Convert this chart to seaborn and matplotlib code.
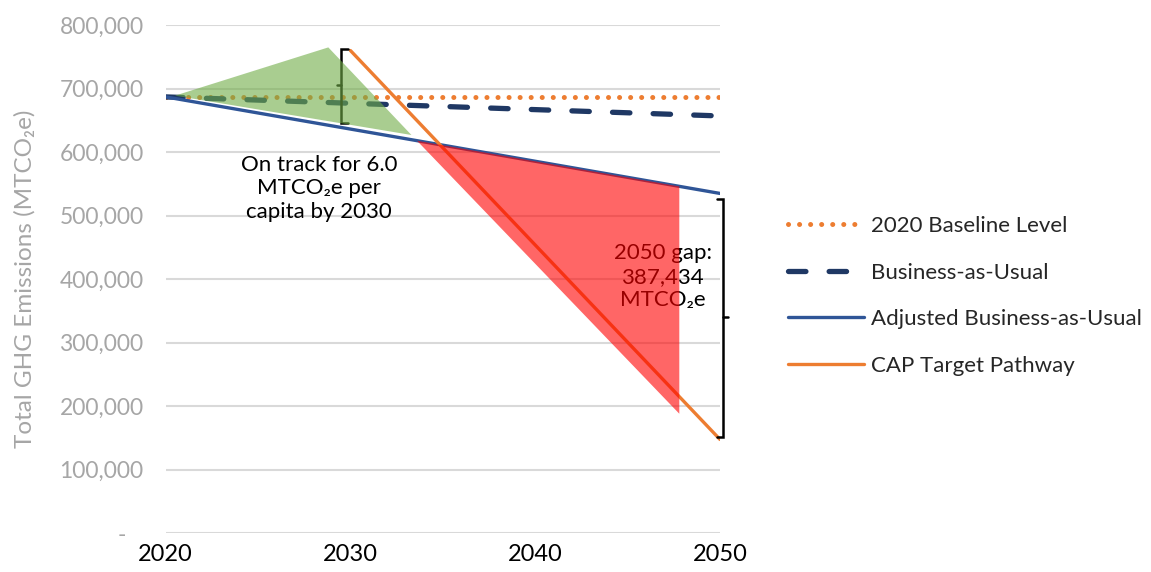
import numpy as np
import pandas as pd
import matplotlib
matplotlib.use("Agg")
import matplotlib.pyplot as plt
import seaborn as sns

# Emission pathways (MTCO2e)
baseline_years = [2020, 2050]
baseline_vals = [687000, 687000]

bau_years = [2020, 2050]
bau_vals = [687000, 657000]

abau_years = [2020, 2050]
abau_vals = [687000, 535000]

cap_years = [2030, 2050]
cap_vals = [760000, 147566]

# Shaded callouts
green_x = [2020.5, 2028.8, 2033.3]
green_y = [689000, 765000, 627000]
red_x = [2033.6, 2047.8, 2047.8]
red_y = [618000, 546000, 188000]

y_ticks = [0, 100000, 200000, 300000, 400000, 500000, 600000, 700000, 800000]
y_tick_labels = ["-   ", "100,000", "200,000", "300,000", "400,000",
                 "500,000", "600,000", "700,000", "800,000"]
x_ticks = [2020, 2030, 2040, 2050]

sns.set_theme(style="white")
plt.rcParams["font.family"] = ["Lato", "DejaVu Sans"]

fig = plt.figure(figsize=(11.51, 5.72), dpi=100)
ax = fig.add_axes([0.144, 0.068, 0.4815, 0.888])

ax.set_xlim(2020, 2050)
ax.set_ylim(0, 800000)
ax.set_yticks(y_ticks)
ax.set_yticklabels(y_tick_labels)
ax.set_xticks(x_ticks)
ax.yaxis.grid(True, color="#d9d9d9", linewidth=1.5, zorder=0)
ax.set_axisbelow(True)
for s in ax.spines.values():
    s.set_visible(False)
ax.tick_params(axis="y", length=0, labelsize=16.5, labelcolor="#a6a6a6", pad=16)
ax.tick_params(axis="x", length=0, labelsize=17, labelcolor="black", pad=8)
ax.set_ylabel("Total GHG Emissions (MTCO₂e)", fontsize=17.5, color="#a6a6a6")
ax.yaxis.set_label_coords(-0.235, 0.5)

orange = "#ED7D31"
navy = "#1F3864"
blue = "#2F5597"

series = [
    ("2020 Baseline Level", baseline_years, baseline_vals,
     dict(color=orange, lw=3.6, linestyle=(0, (0.01, 2.2)), dash_capstyle="round")),
    ("Business-as-Usual", bau_years, bau_vals,
     dict(color=navy, lw=3.8, linestyle=(0, (3.3, 4.4)), dash_capstyle="round")),
    ("Adjusted Business-as-Usual", abau_years, abau_vals,
     dict(color=blue, lw=2.4, linestyle="-")),
    ("CAP Target Pathway", cap_years, cap_vals,
     dict(color=orange, lw=2.4, linestyle="-")),
]
for name, xs, ys, kw in series:
    sns.lineplot(x=xs, y=ys, ax=ax, label=name, zorder=3, **kw)

# 2030 bracket
bx = 2029.51
ax.plot([bx + 0.34, bx, bx, bx + 0.34], [763000, 763000, 646000, 646000],
        color="black", lw=1.8, zorder=4, solid_joinstyle="miter")
ax.plot([bx, bx - 0.25], [706000, 706000], color="black", lw=1.8, zorder=4)

# 2050 gap bracket
gx = 2050.16
ax.plot([gx - 0.3, gx, gx, gx - 0.3], [526000, 526000, 151000, 151000],
        color="black", lw=1.8, zorder=4, clip_on=False, solid_joinstyle="miter")
ax.plot([gx, gx + 0.25], [340000, 340000], color="black", lw=1.8, zorder=4, clip_on=False)

ax.text(2028.3, 543000, "On track for 6.0\nMTCO₂e per\ncapita by 2030",
        ha="center", va="center", fontsize=16, color="black",
        linespacing=1.2, zorder=4)
ax.text(2046.9, 404000, "2050 gap:\n387,434\nMTCO₂e",
        ha="center", va="center", fontsize=16, color="black",
        linespacing=1.2, zorder=4)

ax.fill(green_x, green_y, color="#70AD47", alpha=0.6, lw=0, zorder=5)
ax.fill(red_x, red_y, color="#FF0000", alpha=0.6, lw=0, zorder=5)

leg = ax.legend(loc="center left", bbox_to_anchor=(1.123, 0.467), frameon=False,
                fontsize=16, handlelength=3.4, handletextpad=0.35,
                labelspacing=1.2, borderpad=0, borderaxespad=0)

fig.savefig("out.png", dpi=100)
